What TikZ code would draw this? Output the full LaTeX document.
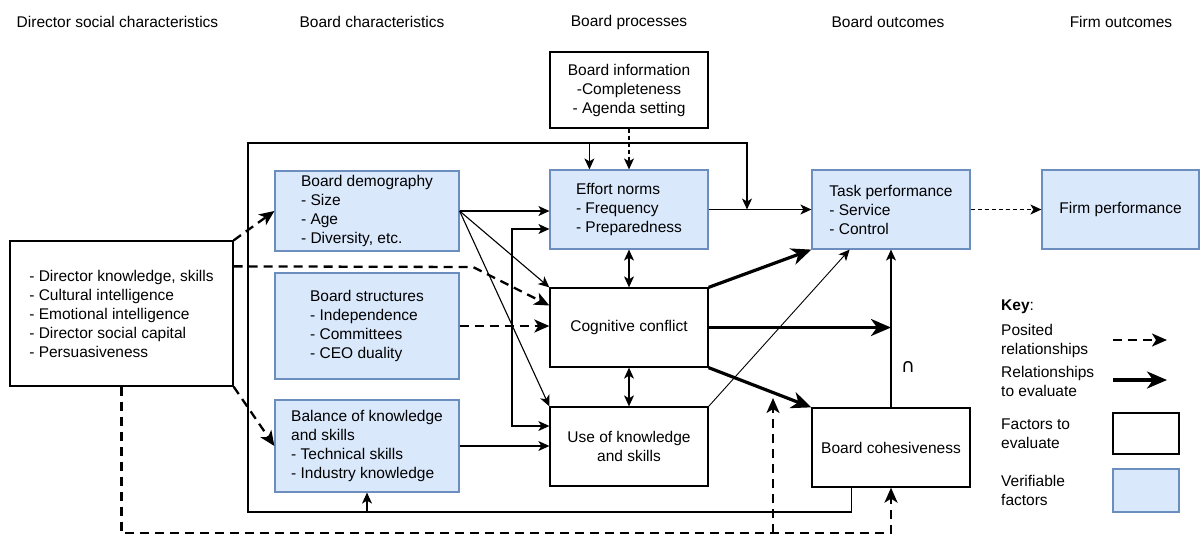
\documentclass[tikz,border=0pt]{standalone}
\usepackage{fontspec}
\setmainfont{Liberation Sans}
\newfontfamily\djvfont{DejaVu Sans}
\usetikzlibrary{arrows.meta,calc}
\definecolor{bfill}{HTML}{DAE8FC}
\definecolor{bdraw}{HTML}{6C8EBF}
\tikzset{
  wbox/.style={draw=black, line width=1.3pt, fill=white, inner sep=0pt, align=left},
  bbox/.style={draw=bdraw, line width=1.2pt, fill=bfill, inner sep=0pt, align=left},
  tarrow/.style={line width=1.1pt, -{Stealth[length=11pt,width=10pt,inset=3pt]}},
  tboth/.style={line width=1.1pt, {Stealth[length=11pt,width=10pt,inset=3pt]}-{Stealth[length=11pt,width=10pt,inset=3pt]}},
  tdash/.style={line width=1.1pt, dash pattern=on 4pt off 3pt, -{Stealth[length=11pt,width=10pt,inset=3pt]}},
  darrow/.style={line width=2.3pt, dash pattern=on 9pt off 6pt, -{Stealth[length=15pt,width=13pt,inset=4pt]}},
  karrow/.style={line width=3.2pt, -{Stealth[length=20pt,width=17pt,inset=6pt]}},
  title/.style={inner sep=0pt},
  keytext/.style={inner sep=0pt, anchor=west, align=left}
}
\begin{document}
\begin{tikzpicture}[x=1pt,y=-1pt,font=\fontsize{15.5}{19}\selectfont]
\useasboundingbox (0,0) rectangle (1201,539);
\fill[white] (0,0) rectangle (1201,539);

% titles
\node[title] (t1) at (117.5,22) {Director social characteristics};
\node[title] (t2) at (372,22) {Board characteristics};
\node[title] (t3) at (629,22) {Board processes};
\node[title] (t4) at (888,22) {Board outcomes};
\node[title] (t5) at (1121,22) {Firm outcomes};

% feedback frame coordinates
\coordinate (fbBL) at (248,512);
\coordinate (fbTL) at (248,143);
\coordinate (fbTR) at (747,143);
\coordinate (dbot) at (0,533);
\coordinate (modtip) at (773,398);
\coordinate (dcbend) at (473,267);
\coordinate (brk1) at (512,229);
\coordinate (brk2) at (512,426);

% nodes
\node[wbox, minimum width=223pt, minimum height=145pt] (dir) at (121.5,313.5)
  {- Director knowledge, skills\\- Cultural intelligence\\- Emotional intelligence\\- Director social capital\\- Persuasiveness};
\node[bbox, minimum width=184pt, minimum height=80pt] (demo) at (367,211)
  {Board demography\\- Size\\- Age\\- Diversity, etc.};
\node[bbox, minimum width=184pt, minimum height=106pt] (struct) at (367,326)
  {Board structures\\- Independence\\- Committees\\- CEO duality};
\node[bbox, minimum width=184pt, minimum height=92pt] (bal) at (367,446)
  {Balance of knowledge\\and skills\\- Technical skills\\- Industry knowledge};
\node[wbox, align=center, minimum width=158pt, minimum height=76pt] (info) at (629,90)
  {Board information\\-Completeness\\- Agenda setting};
\node[bbox, minimum width=158pt, minimum height=79pt] (eff) at (629,209.5)
  {Effort norms\\- Frequency\\- Preparedness};
\node[wbox, minimum width=158pt, minimum height=79pt] (cog) at (629,327.5)
  {Cognitive conflict};
\node[wbox, align=center, minimum width=158pt, minimum height=79pt] (use) at (629,446.5)
  {Use of knowledge\\and skills};
\node[bbox, minimum width=158pt, minimum height=79pt] (task) at (891,209.5)
  {Task performance\\- Service\\- Control};
\node[bbox, align=center, minimum width=157pt, minimum height=79pt] (firm) at (1120.5,209.5)
  {Firm performance};
\node[wbox, minimum width=158pt, minimum height=79pt] (coh) at (891,447.5)
  {Board cohesiveness};
\node[inner sep=0pt] (cap) at (908,367) {\djvfont\fontsize{19}{19}\selectfont ∩};

% feedback loop
\draw[tarrow] ($(coh.south west)+(40,0)$) |- (fbBL) -- (fbTL) -- (fbTR) -- (fbTR |- eff.east);
\draw[tarrow] (bal.south |- fbBL) -- (bal.south);
\coordinate (e40) at ($(eff.north west)+(40,0)$);
\draw[tarrow] (e40 |- fbTL) -- (e40);

% dashed from director
\draw[darrow] (dir.north east) -- (demo.west);
\draw[darrow] (dir.south east) -- (bal.west);
\draw[darrow] ($(dir.north east)+(0,26)$) -- (dcbend) -- ($(cog.west)+(0,-22)$);
\draw[darrow] (struct.east) -- (struct.east -| cog.west);
\draw[darrow] (dir.south) -- (dir.south |- dbot) -- (coh.south |- dbot) -- (coh.south);
\draw[darrow] (modtip |- dbot) -- (modtip);

% board demography links
\draw[tarrow] (demo.east) -- (demo.east -| eff.west);
\draw[tarrow] (demo.east) -- (cog.north west);
\draw[tarrow] (demo.east) -- (use.north west);
\draw[tboth] ($(eff.west)+(0,19.5)$) -- (brk1) -- (brk2) -- ($(use.west)+(0,-20.5)$);
\draw[tarrow] (bal.east) -- (bal.east -| use.west);

% process links
\draw[tdash] (info.south) -- (eff.north);
\draw[tboth] (eff.south) -- (cog.north);
\draw[tboth] (cog.south) -- (use.north);
\draw[tarrow] (eff.east) -- (task.west);
\draw[tdash] (task.east) -- (firm.west);
\draw[karrow] (cog.north east) -- (task.south west);
\draw[karrow] (cog.east) -- (cog.east -| coh.north);
\draw[karrow] (cog.south east) -- (coh.north west);
\draw[tarrow, line width=0.9pt] (use.north east) -- ($(task.south west)!0.24!(task.south east)$);
\draw[tarrow] (coh.north) -- (task.south);

% key
\node[keytext] (k0) at (1001,307) {\textbf{Key}:};
\node[keytext] (k1) at (1001,340.5) {Posited\\relationships};
\node[keytext] (k2) at (1001,381.5) {Relationships\\to evaluate};
\node[keytext] (k3) at (1001,433.5) {Factors to\\evaluate};
\node[keytext] (k4) at (1001,490.5) {Verifiable\\factors};
\coordinate (ka1) at (1113,340);
\coordinate (kb1) at (1167,340);
\coordinate (ka2) at (1113,380);
\coordinate (kb2) at (1167,380);
\draw[darrow] (ka1) -- (kb1);
\draw[karrow] (ka2) -- (kb2);
\node[wbox, minimum width=66pt, minimum height=41pt] (kw) at (1146,433.5) {};
\node[bbox, minimum width=66pt, minimum height=43pt] (kb) at (1146,490.5) {};
\end{tikzpicture}
\end{document}
